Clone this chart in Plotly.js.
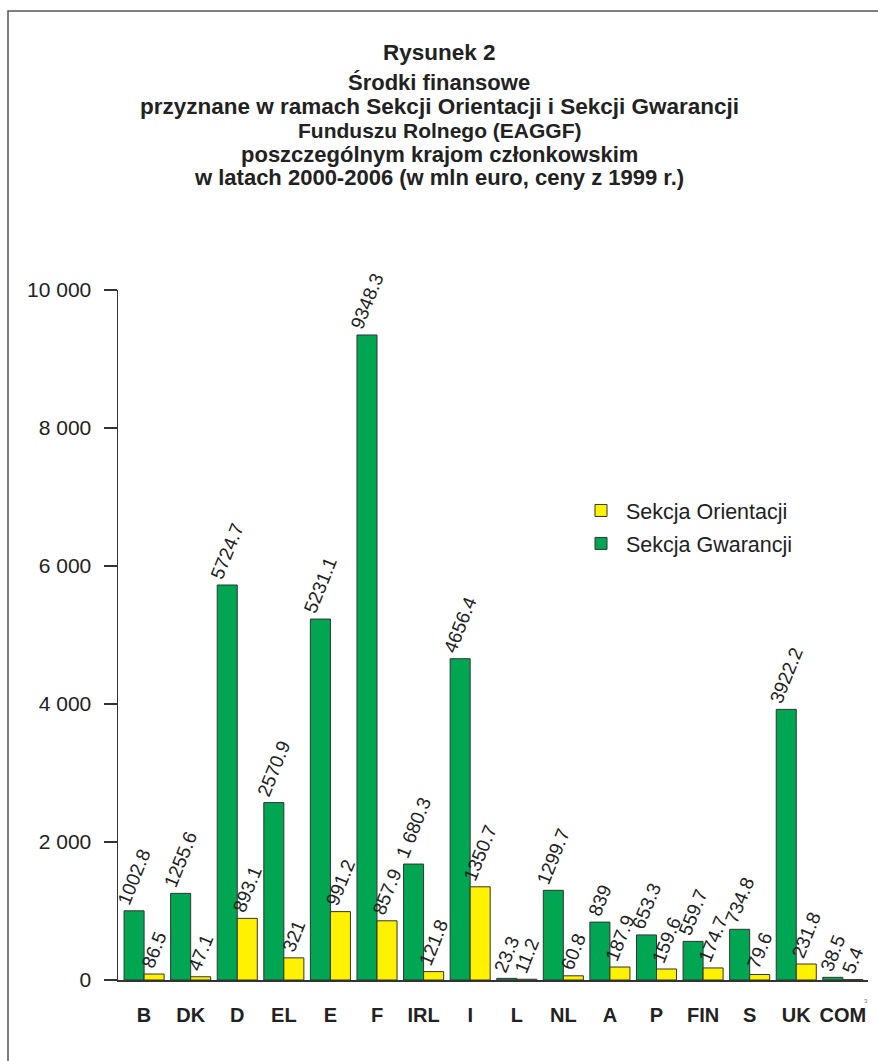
<!DOCTYPE html>
<html>
<head>
<meta charset="utf-8">
<script src="https://cdn.plot.ly/plotly-3.0.1.min.js"></script>
<style>html,body{margin:0;padding:0;background:#fff;}#chart{width:878px;height:1061px;}</style>
</head>
<body>
<div id="chart"></div>
<script>
const categories = ['B','DK','D','EL','E','F','IRL','I','L','NL','A','P','FIN','S','UK','COM'];
const gwarancjiValues = [1002.8,1255.6,5724.7,2570.9,5231.1,9348.3,1680.3,4656.4,23.3,1299.7,839,653.3,559.7,734.8,3922.2,38.5];
const orientacjiValues = [86.5,47.1,893.1,321,991.2,857.9,121.8,1350.7,11.2,60.8,187.9,159.6,174.7,79.6,231.8,5.4];
const gwarancjiLabels = ['1002.8','1255.6','5724.7','2570.9','5231.1','9348.3','1 680.3','4656.4','23.3','1299.7','839','653.3','559.7','734.8','3922.2','38.5'];
const orientacjiLabels = ['86.5','47.1','893.1','321','991.2','857.9','121.8','1350.7','11.2','60.8','187.9','159.6','174.7','79.6','231.8','5.4'];
const yTickVals = [0,2000,4000,6000,8000,10000];
const yTickText = ['0','2 000','4 000','6 000','8 000','10 000'];
const titleLines = ['Rysunek 2','Środki finansowe','przyznane w ramach Sekcji Orientacji i Sekcji Gwarancji','Funduszu Rolnego (EAGGF)','poszczególnym krajom członkowskim','w latach 2000-2006 (w mln euro, ceny z 1999 r.)'];
const seriesNames = ['Sekcja Gwarancji','Sekcja Orientacji'];

const W = 878, H = 1061;
const M = {l:118, r:10, t:290, b:81};
const pw = W - M.l - M.r, ph = H - M.t - M.b;
const px = x => (x - M.l) / pw;
const py = y => (H - M.b - y) / ph;

const FONT = 'Liberation Sans, Arial, Helvetica, sans-serif';

const common = {
  type:'bar', x: categories, textposition:'outside', textangle:-68,
  constraintext:'none', cliponaxis:false,
  textfont:{family:FONT, size:19, color:'#222'},
  hoverinfo:'skip'
};

const traces = [
  Object.assign({}, common, {
    name: seriesNames[0], y: gwarancjiValues, text: gwarancjiLabels,
    marker:{color:'#00a651', line:{color:'#333', width:1}},
    legendgroup:'g', legendrank:2
  }),
  Object.assign({}, common, {
    name: seriesNames[1], y: orientacjiValues, text: orientacjiLabels,
    marker:{color:'#fff200', line:{color:'#333', width:1}},
    legendgroup:'o', legendrank:1
  })
];

const titleY = [52, 82, 106, 130, 154, 178];
const titleSize = [22.5, 22, 22.5, 21, 22, 22];
const annotations = titleLines.map((t,i) => ({
  text: t, xref:'paper', yref:'paper', x: px(439), y: py(titleY[i]),
  xanchor:'center', yanchor:'middle', showarrow:false,
  font:{family:FONT, size:titleSize[i], color:'#222', weight:'bold'}
}));
annotations.push({
  text:'3', xref:'paper', yref:'paper', x: px(866), y: py(1001),
  xanchor:'center', yanchor:'middle', showarrow:false,
  font:{family:FONT, size:6, color:'#777'}
});

const layout = {
  width: W, height: H,
  margin: M,
  paper_bgcolor:'#fff', plot_bgcolor:'#fff',
  font:{family:FONT, color:'#222'},
  barmode:'group', bargap:0.14, bargroupgap:0,
  showlegend:true,
  legend:{
    x: px(576), y: py(490), xanchor:'left', yanchor:'top',
    font:{family:FONT, size:21.5, color:'#222'},
    traceorder:'grouped', tracegroupgap:2, itemwidth:40,
    bgcolor:'rgba(0,0,0,0)', borderwidth:0
  },
  xaxis:{
    type:'category', range:[-0.56, 15.54],
    showline:true, linecolor:'#333', linewidth:1.5,
    ticks:'', showgrid:false, zeroline:false,
    tickfont:{family:FONT, size:20, color:'#222', weight:'bold'},
    ticklabelstandoff:16, fixedrange:true
  },
  yaxis:{
    range:[0,10000], tickvals:yTickVals, ticktext:yTickText,
    showline:true, linecolor:'#333', linewidth:1.5,
    ticks:'outside', ticklen:13, tickcolor:'#333', tickwidth:1.5,
    showgrid:false, zeroline:false,
    tickfont:{family:FONT, size:21, color:'#222'},
    ticklabelstandoff:8, fixedrange:true
  },
  shapes:[{
    type:'rect', xref:'paper', yref:'paper',
    x0: px(8), x1: px(882), y0: py(1066), y1: py(11),
    line:{color:'#555', width:1.5}, fillcolor:'rgba(0,0,0,0)', layer:'below'
  }],
  annotations: annotations
};

Plotly.newPlot('chart', traces, layout, {displayModeBar:false, staticPlot:true});
</script>
</body>
</html>
